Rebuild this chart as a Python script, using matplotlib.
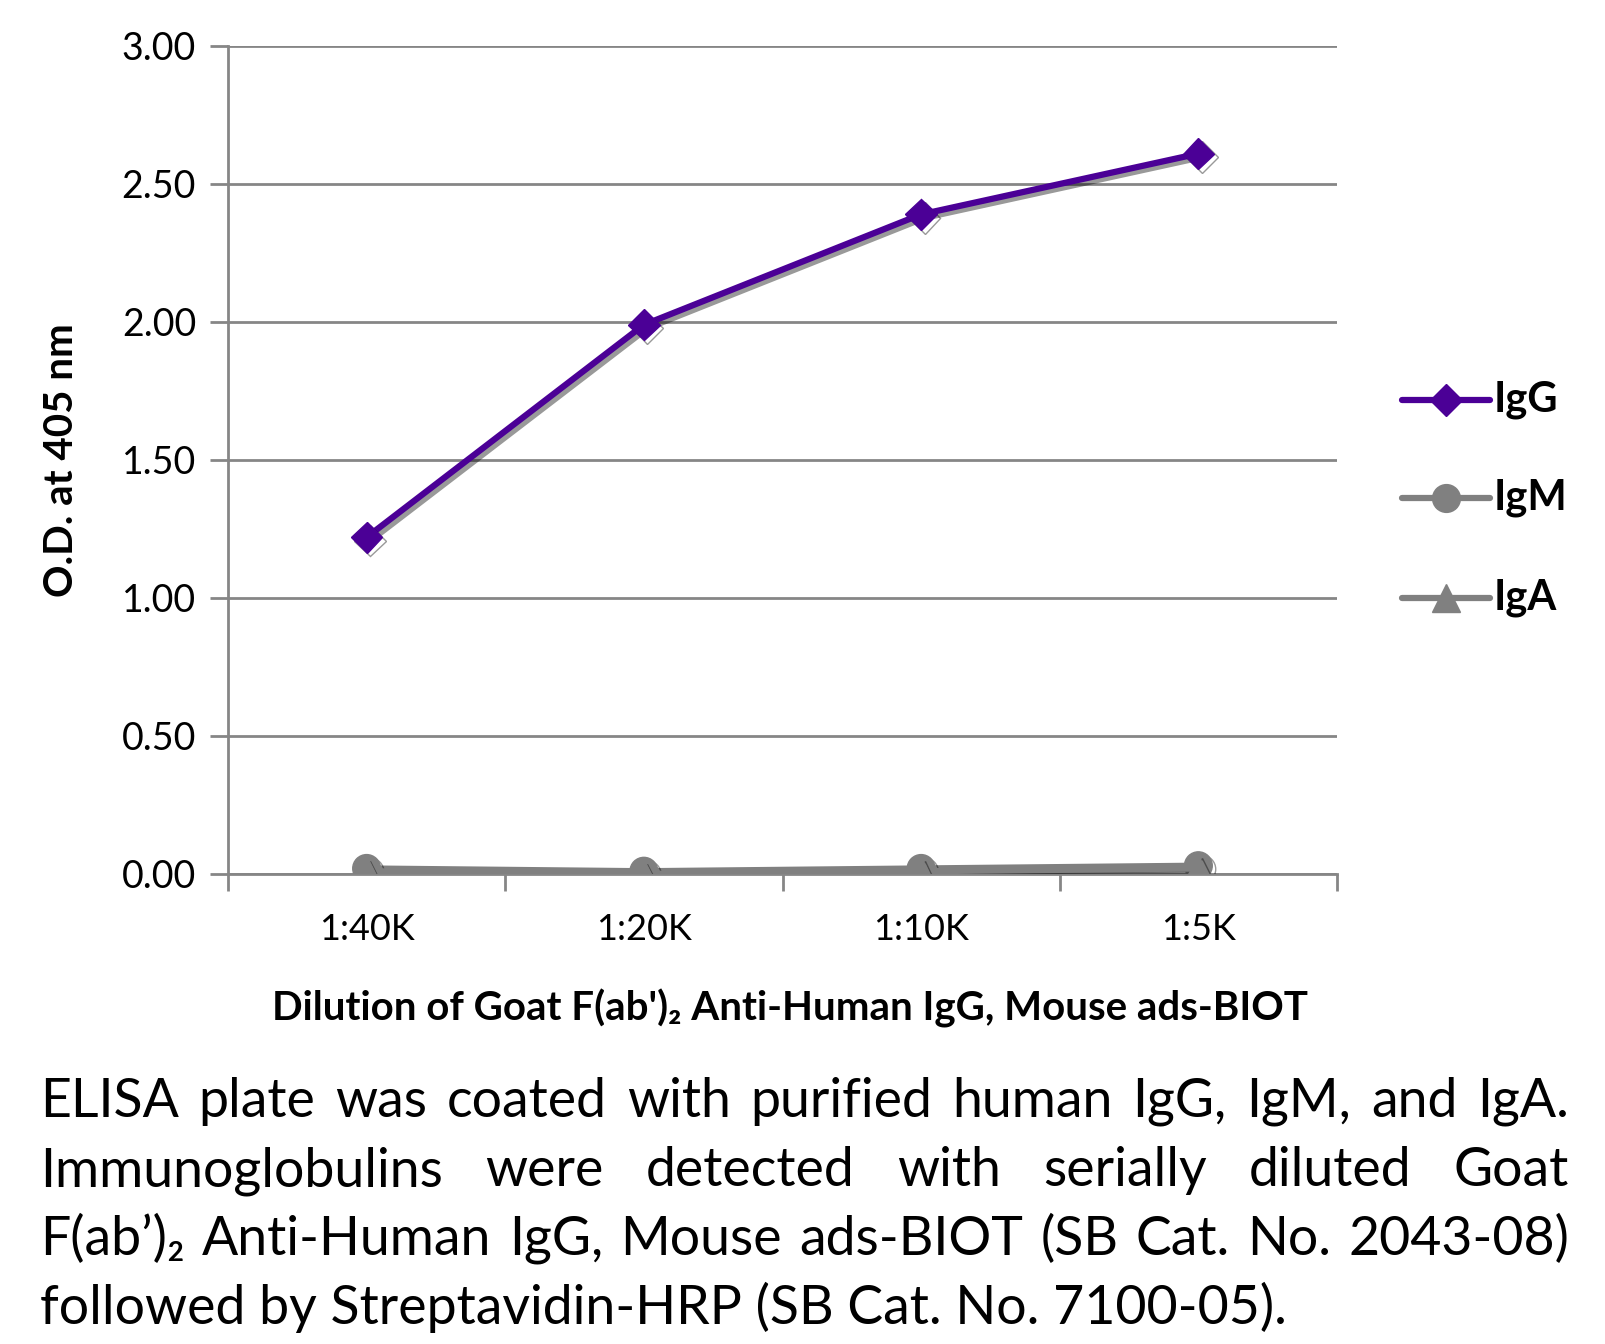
import matplotlib
matplotlib.use("Agg")
import matplotlib.pyplot as plt
import matplotlib.patheffects as pe
from matplotlib.lines import Line2D

plt.rcParams['font.family'] = ['Lato', 'DejaVu Sans']

dilutions = ['1:40K', '1:20K', '1:10K', '1:5K']
igg = [1.22, 1.99, 2.39, 2.61]
igm = [0.02, 0.01, 0.02, 0.03]
iga = [0.01, 0.00, 0.01, 0.02]
y_ticks = [0.0, 0.5, 1.0, 1.5, 2.0, 2.5, 3.0]

caption_lines = [
    "ELISA plate was coated with purified human IgG, IgM, and IgA.",
    "Immunoglobulins were detected with serially diluted Goat",
    "F(ab\u2019)\u2082 Anti-Human IgG, Mouse ads-BIOT (SB Cat. No. 2043-08)",
    "followed by Streptavidin-HRP (SB Cat. No. 7100-05).",
]

purple = '#4b0096'
grey = '#808080'
axis_grey = '#868686'

W, H = 1605, 1344
fig = plt.figure(figsize=(W / 100, H / 100), dpi=100)
ax = fig.add_axes([228 / W, 1 - 874 / H, (1337 - 228) / W, (874 - 46) / H])

shadow = [pe.SimpleLineShadow(offset=(2.5, -2.5), alpha=0.4, shadow_color='black'), pe.Normal()]

x = list(range(len(dilutions)))
ax.plot(x, igm, color=grey, lw=4.5, marker='o', ms=20, zorder=3, path_effects=shadow,
        solid_joinstyle='round', solid_capstyle='round')
ax.plot(x, iga, color=grey, lw=4.5, marker='^', ms=20, zorder=3, path_effects=shadow,
        solid_joinstyle='round', solid_capstyle='round')
ax.plot(x, igg, color=purple, lw=4.5, marker='D', ms=16, zorder=4, path_effects=shadow,
        solid_joinstyle='round', solid_capstyle='round')

ax.set_xlim(-0.5, len(dilutions) - 0.5)
ax.set_ylim(0, 3.0)
ax.set_yticks(y_ticks)
ax.set_yticklabels([f'{v:.2f}' for v in y_ticks], fontsize=27)
ax.set_xticks(x)
ax.set_xticklabels(dilutions, fontsize=26)
ax.set_xticks([i - 0.5 for i in range(len(dilutions) + 1)], minor=True)
ax.tick_params(axis='x', which='major', length=0, pad=28)
ax.tick_params(axis='x', which='minor', length=12, width=2, color=axis_grey, direction='out')
ax.tick_params(axis='y', length=13, width=2, color=axis_grey, pad=10)
ax.yaxis.grid(True, color=axis_grey, lw=2)
ax.set_axisbelow(True)
for side in ['top', 'right']:
    ax.spines[side].set_visible(False)
for side in ['left', 'bottom']:
    ax.spines[side].set_color(axis_grey)
    ax.spines[side].set_linewidth(2)
ax.spines['bottom'].set_zorder(2)

ax.set_ylabel('O.D. at 405 nm', fontsize=29, fontweight='bold', labelpad=30)
fig.text(790 / W, 1 - 1008 / H, "Dilution of Goat F(ab')\u2082 Anti-Human IgG, Mouse ads-BIOT",
         fontsize=29, fontweight='bold', ha='center', va='center')

# legend drawn by hand to match the original placement
for label, color, marker, ms, ypx in [('IgG', purple, 'D', 16, 400),
                                      ('IgM', grey, 'o', 20, 498),
                                      ('IgA', grey, '^', 20, 598)]:
    yf = 1 - ypx / H
    fig.add_artist(Line2D([1402 / W, 1490 / W], [yf, yf], color=color, lw=4.5,
                          solid_capstyle='round', transform=fig.transFigure))
    fig.add_artist(Line2D([1446 / W], [yf], color=color, marker=marker, ms=ms,
                          transform=fig.transFigure))
    fig.text(1494 / W, yf, label, fontsize=30, fontweight='bold', va='center', ha='left')

# justified caption
left_px, right_px = 40, 1569
base_px = [1117, 1186, 1255, 1324]
fig.canvas.draw()
renderer = fig.canvas.get_renderer()
for i, line in enumerate(caption_lines):
    yf = 1 - base_px[i] / H
    words = line.split(' ')
    if i == len(caption_lines) - 1:
        fig.text(left_px / W, yf, line, fontsize=38.6, va='baseline', ha='left')
        continue
    texts = [fig.text(0, yf, w, fontsize=38.6, va='baseline', ha='left') for w in words]
    widths = [t.get_window_extent(renderer).width for t in texts]
    gap = (right_px - left_px - sum(widths)) / (len(words) - 1)
    xpos = left_px
    for t, w in zip(texts, widths):
        t.set_x(xpos / W)
        xpos += w + gap

fig.savefig('out.png', dpi=100)
